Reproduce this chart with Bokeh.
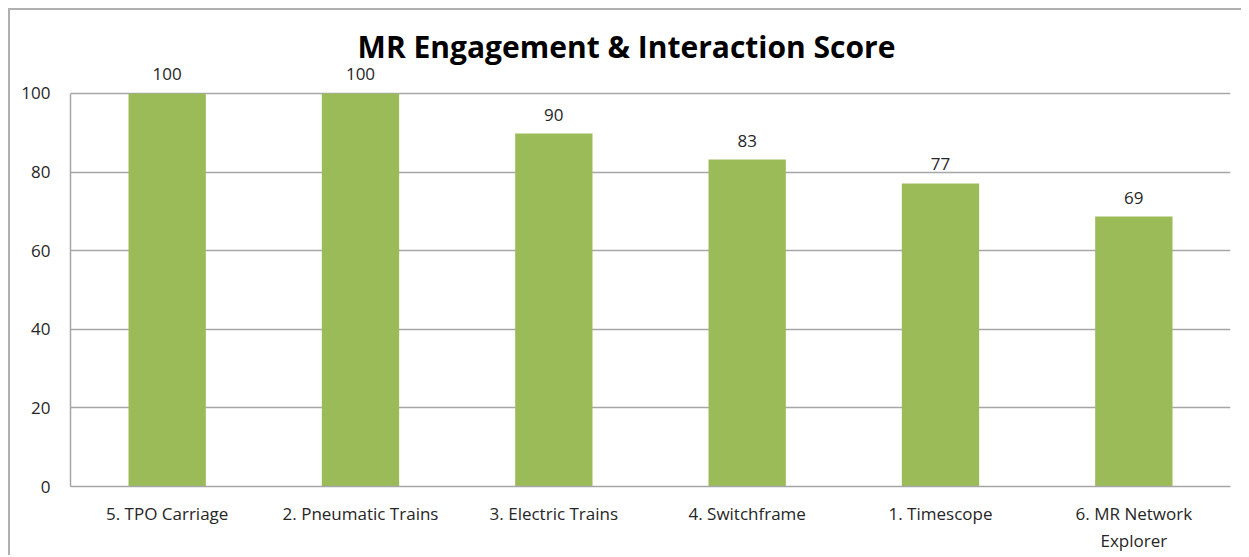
from bokeh.plotting import figure
from bokeh.models import ColumnDataSource, FixedTicker, FactorRange, Range1d, LabelSet, Label
from bokeh.core.properties import value
from bokeh.embed import file_html
from bokeh.resources import INLINE

title_text = "MR Engagement & Interaction Score"
categories = ["5. TPO Carriage", "2. Pneumatic Trains", "3. Electric Trains",
              "4. Switchframe", "1. Timescope", "6. MR Network\nExplorer"]
scores = [100, 100, 89.8, 83.2, 77.1, 68.7]
score_labels = ["100", "100", "90", "83", "77", "69"]
y_ticks = [0, 20, 40, 60, 80, 100]

FONT = "Open Sans"
GRID = "#a6a6a6"
TXT = "#262626"
EDGE = "#b0b0b0"

src = ColumnDataSource(dict(cat=categories, score=scores, lab=score_labels))

# extra headroom above 100 so labels and title are not clipped
Y_TOP = 117.3

p = figure(x_range=FactorRange(*categories, range_padding=0),
           y_range=Range1d(0, Y_TOP),
           frame_width=1160, frame_height=461,
           min_border_left=70, min_border_right=11,
           min_border_top=25, min_border_bottom=63,
           output_backend="svg", toolbar_location=None)
p.styles = {
    "background": (f"linear-gradient({EDGE},{EDGE}) 8px 8px / 100% 2px no-repeat, "
                   f"linear-gradient({EDGE},{EDGE}) 8px 8px / 2px 100% no-repeat, white")
}

p.vbar(x="cat", top="score", width=0.4, source=src, color="#9bbb59", line_color=None)
labels = LabelSet(x="cat", y="score", text="lab", source=src, text_align="center",
                  text_baseline="bottom", y_offset=13, text_font=value(FONT),
                  text_font_size="17px", text_color=TXT)
p.add_layout(labels)

title = Label(x=2.876, y=111.9, text=title_text, text_align="center",
              text_baseline="middle", text_font=FONT, text_font_size="30px",
              text_font_style="bold", text_color="#000000")
p.add_layout(title)

p.outline_line_color = None
p.xgrid.grid_line_color = None
p.ygrid.grid_line_color = GRID
p.ygrid.grid_line_width = 1.5
p.yaxis.ticker = FixedTicker(ticks=y_ticks)
p.yaxis.bounds = (0, 100)

for ax in (p.xaxis[0], p.yaxis[0]):
    ax.axis_line_color = GRID
    ax.axis_line_width = 1.5
    ax.major_tick_line_color = None
    ax.minor_tick_line_color = None
    ax.major_label_text_font = FONT
    ax.major_label_text_font_size = "17px"
    ax.major_label_text_color = TXT

p.yaxis.major_label_standoff = 14
p.xaxis.major_label_standoff = 9

p.background_fill_color = "white"
p.border_fill_color = None

open("out.html", "w").write(file_html(p, INLINE))
